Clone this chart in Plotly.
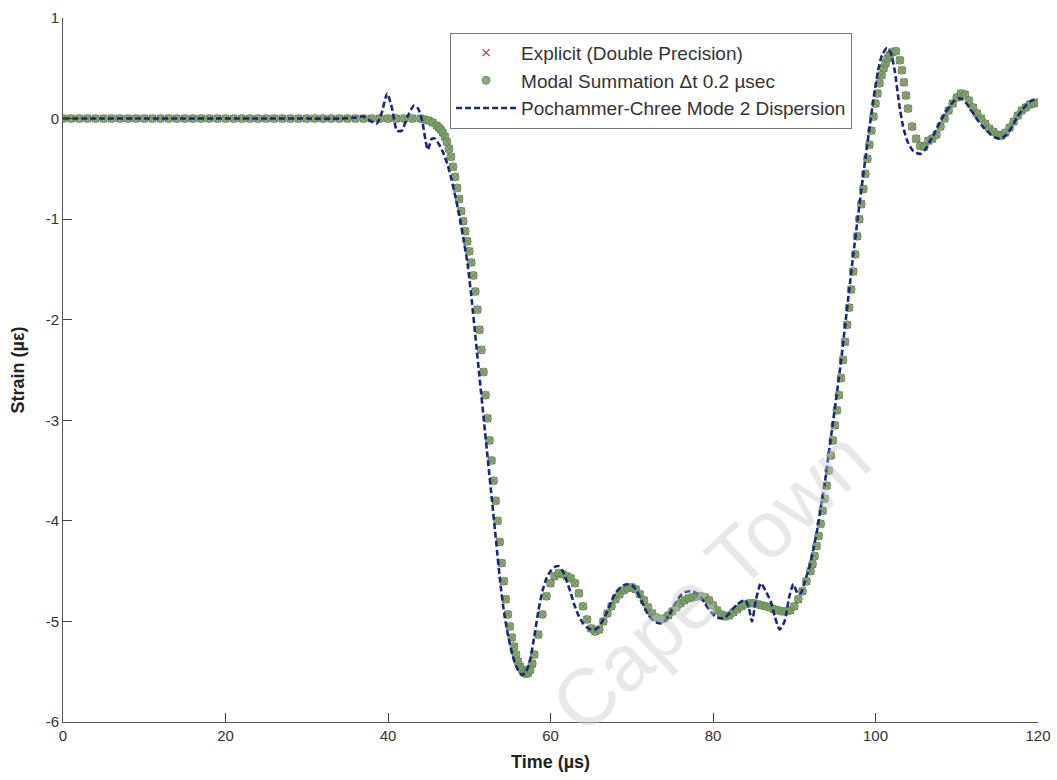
import plotly.graph_objects as go

# ---- Marker series (Explicit and Modal Summation coincide at plotted resolution) ----
modal_time = [
    0, 1, 2, 3, 4, 5, 6, 7, 8, 9, 10, 11, 12, 13, 14, 15, 16, 17, 18, 19, 20, 21, 22,
    23, 24, 25, 26, 27, 28, 29, 30, 31, 32, 33, 34, 35, 36, 37, 38, 39, 40, 41, 42, 43, 44,
    44.5, 45, 45.5, 46, 46.25, 46.5, 46.75, 47, 47.25, 47.5, 47.75, 48, 48.25, 48.5, 48.75,
    49, 49.25, 49.5, 49.75, 50, 50.25, 50.5, 50.75, 51, 51.25, 51.5, 51.75, 52, 52.25, 52.5,
    52.75, 53, 53.25, 53.5, 53.75, 54, 54.25, 54.5, 54.75, 55, 55.25, 55.5, 55.75, 56, 56.25,
    56.5, 56.75, 57, 57.25, 57.5, 57.75, 58, 58.5, 59, 59.5, 60, 60.5, 61, 61.5, 62, 62.5,
    63, 63.5, 64, 64.5, 65, 65.5, 66, 66.5, 67, 67.5, 68, 68.5, 69, 69.5, 70, 70.5, 71, 71.5,
    72, 72.5, 73, 73.5, 74, 74.5, 75, 75.5, 76, 76.5, 77, 77.5, 78, 78.5, 79, 79.5, 80, 80.5,
    81, 81.5, 82, 82.5, 83, 83.5, 84, 84.5, 85, 85.5, 86, 86.5, 87, 87.5, 88, 88.5, 89, 89.5,
    90, 90.5, 91, 91.5, 92, 92.25, 92.5, 92.75, 93, 93.25, 93.5, 93.75, 94, 94.25, 94.5, 94.75,
    95, 95.25, 95.5, 95.75, 96, 96.25, 96.5, 96.75, 97, 97.25, 97.5, 97.75, 98, 98.25, 98.5,
    98.75, 99, 99.25, 99.5, 99.75, 100, 100.25, 100.5, 100.75, 101, 101.25, 101.5, 101.75,
    102, 102.5, 103, 103.25, 103.5, 103.75, 104, 104.5, 105, 105.5, 106, 106.5, 107, 107.5,
    108, 108.5, 109, 109.5, 110, 110.5, 111, 111.5, 112, 112.5, 113, 113.5, 114, 114.5, 115,
    115.5, 116, 116.5, 117, 117.5, 118, 118.5, 119, 119.5, 120,
]
modal_strain = [
    0.0, 0.0, 0.0, 0.0, 0.0, 0.0, 0.0, 0.0, 0.0, 0.0, 0.0, 0.0, 0.0, 0.0, 0.0, 0.0, 0.0, 0.0,
    0.0, 0.0, 0.0, 0.0, 0.0, 0.0, 0.0, 0.0, 0.0, 0.0, 0.0, 0.0, 0.0, 0.0, 0.0, 0.0, 0.0, 0.0,
    0.0, 0.0, 0.0, 0.0, 0.0, 0.0, 0.0, 0.0, 0.0,
    -0.01, -0.02, -0.04, -0.07, -0.09, -0.11, -0.14, -0.18, -0.23, -0.30, -0.38, -0.48, -0.58,
    -0.69, -0.80, -0.92, -1.02, -1.12, -1.22, -1.32, -1.43, -1.56, -1.72, -1.90, -2.10, -2.30,
    -2.52, -2.75, -2.98, -3.20, -3.40, -3.60, -3.80, -4.00, -4.21, -4.42, -4.60, -4.78, -4.93,
    -5.05, -5.16, -5.25, -5.33, -5.40, -5.45, -5.48, -5.51, -5.52, -5.51, -5.48, -5.42, -5.33,
    -5.13, -4.93, -4.75, -4.62, -4.55, -4.52, -4.53, -4.55, -4.57, -4.62, -4.72, -4.85, -4.98,
    -5.07, -5.10, -5.08, -5.00, -4.92, -4.85, -4.78, -4.73, -4.69, -4.67, -4.66, -4.68, -4.73,
    -4.79, -4.86, -4.92, -4.96, -4.98, -4.97, -4.94, -4.90, -4.86, -4.82, -4.79, -4.77, -4.76,
    -4.75, -4.75, -4.76, -4.79, -4.84, -4.89, -4.93, -4.95, -4.94, -4.91, -4.88, -4.85, -4.83,
    -4.82, -4.82, -4.83, -4.84, -4.85, -4.86, -4.88, -4.89, -4.90, -4.90, -4.89, -4.85, -4.78,
    -4.70, -4.60, -4.50, -4.43, -4.35, -4.25, -4.15, -4.03, -3.90, -3.78, -3.65, -3.50, -3.35,
    -3.20, -3.05, -2.90, -2.75, -2.58, -2.40, -2.22, -2.05, -1.88, -1.70, -1.52, -1.35, -1.17,
    -1.00, -0.85, -0.70, -0.55, -0.40, -0.26, -0.12, 0.02, 0.15, 0.25, 0.35, 0.43, 0.50, 0.55,
    0.60, 0.63, 0.66, 0.67, 0.58, 0.48, 0.36, 0.23, 0.10, -0.08, -0.20, -0.27, -0.28, -0.22,
    -0.20, -0.16, -0.08, 0.00, 0.08, 0.15, 0.21, 0.25, 0.24, 0.18, 0.11, 0.05, 0.00, -0.05,
    -0.10, -0.13, -0.16, -0.17, -0.14, -0.09, -0.03, 0.03, 0.08, 0.11, 0.14, 0.15, 0.16,
]
explicit_time = list(modal_time)
explicit_strain = list(modal_strain)

# ---- Pochammer-Chree Mode 2 dispersion (dashed line) ----
pc_time = [
    0, 5, 10, 15, 20, 25, 30, 34, 36, 37, 38, 38.6, 39.2, 39.9, 40.5, 41.1, 41.7, 42.4, 43.2,
    43.7, 44.2, 44.9, 45.4, 45.8, 46.3, 46.8, 47.3, 47.8, 48.3, 48.8, 49.3, 49.8, 50.3, 50.8,
    51.3, 51.8, 52.3, 52.8, 53.3, 53.8, 54.3, 54.8, 55.3, 55.8, 56.3, 56.6, 57, 57.5, 58, 58.5,
    59, 59.5, 60, 60.5, 61, 61.5, 62, 62.5, 63, 63.5, 64, 64.5, 65, 65.5, 66, 66.5, 67, 67.5,
    68, 68.5, 69, 69.5, 70, 70.5, 71, 71.5, 72, 72.5, 73, 73.5, 74, 74.5, 75, 75.5, 76, 76.5,
    77, 77.5, 78, 78.5, 79, 79.5, 80, 80.5, 81, 81.5, 82, 82.5, 83, 83.5, 84, 84.4, 84.8, 85.3,
    85.9, 86.5, 87.1, 87.6, 88.2, 88.8, 89.4, 89.9, 90.4, 90.8, 91.3, 91.8, 92.3, 92.8, 93.3,
    93.8, 94.3, 94.8, 95.3, 95.8, 96.3, 96.8, 97.3, 97.8, 98.3, 98.8, 99.3, 99.8, 100.3, 100.8,
    101.4, 101.9, 102.4, 102.9, 103.4, 103.9, 104.5, 105.0, 105.6, 106.1, 106.6, 107.1, 107.6,
    108.1, 108.6, 109.1, 109.6, 110.2, 110.7, 111.2, 111.7, 112.2, 112.7, 113.2, 113.7, 114.2,
    114.8, 115.4, 116, 116.5, 117, 117.5, 118, 118.5, 119, 119.6,
]
pc_strain = [
    0.0, 0.0, 0.0, 0.0, 0.0, 0.0, 0.0, 0.0, 0.01, 0.02, -0.03, -0.05, 0.05, 0.25, 0.10, -0.12,
    -0.12, 0.02, 0.13, 0.10, -0.02, -0.31, -0.20, -0.20, -0.26, -0.34, -0.45, -0.60, -0.78,
    -0.97, -1.20, -1.45, -1.80, -2.20, -2.60, -3.00, -3.40, -3.80, -4.20, -4.60, -4.92, -5.15,
    -5.33, -5.45, -5.52, -5.53, -5.50, -5.38, -5.15, -4.90, -4.70, -4.57, -4.50, -4.46, -4.45,
    -4.50, -4.60, -4.72, -4.85, -4.95, -5.02, -5.06, -5.08, -5.08, -5.05, -4.98, -4.90, -4.80,
    -4.72, -4.67, -4.64, -4.63, -4.64, -4.68, -4.76, -4.85, -4.93, -4.98, -5.01, -5.02, -5.00,
    -4.95, -4.88, -4.80, -4.74, -4.71, -4.70, -4.70, -4.72, -4.76, -4.82, -4.88, -4.93, -4.96,
    -4.97, -4.96, -4.92, -4.87, -4.83, -4.80, -4.79, -4.86, -5.00, -4.78, -4.62, -4.70, -4.80,
    -4.95, -5.08, -5.00, -4.75, -4.63, -4.72, -4.72, -4.60, -4.48, -4.30, -4.10, -3.85, -3.60,
    -3.30, -3.00, -2.70, -2.38, -2.03, -1.68, -1.33, -1.00, -0.68, -0.37, -0.07, 0.22, 0.47,
    0.63, 0.70, 0.65, 0.46, 0.15, -0.08, -0.22, -0.31, -0.34, -0.35, -0.31, -0.24, -0.17, -0.09,
    -0.01, 0.06, 0.12, 0.17, 0.20, 0.19, 0.15, 0.09, 0.03, -0.03, -0.08, -0.12, -0.16, -0.19,
    -0.20, -0.17, -0.12, -0.05, 0.02, 0.08, 0.13, 0.17, 0.19,
]

x_ticks = [0, 20, 40, 60, 80, 100, 120]
x_tick_labels = ["0", "20", "40", "60", "80", "100", "120"]
y_ticks = [-6, -5, -4, -3, -2, -1, 0, 1]
y_tick_labels = ["-6", "-5", "-4", "-3", "-2", "-1", "0", "1"]

FONT = "Liberation Sans, Arial, sans-serif"

fig = go.Figure()
fig.add_trace(go.Scatter(
    x=explicit_time, y=explicit_strain, mode="markers",
    name="Explicit (Double Precision)", legendgroup="a",
    marker=dict(symbol="x-thin", size=7, line=dict(width=1.3, color="rgb(175,60,85)")),
))
fig.add_trace(go.Scatter(
    x=modal_time, y=modal_strain, mode="markers",
    name="Modal Summation \u0394t 0.2 \u00b5sec", legendgroup="b",
    marker=dict(symbol="circle", size=8, color="rgba(118,160,100,0.85)",
                line=dict(width=0.8, color="rgb(90,135,85)")),
))
fig.add_trace(go.Scatter(
    x=pc_time, y=pc_strain, mode="lines",
    name="Pochammer-Chree Mode 2 Dispersion", legendgroup="c",
    line=dict(color="rgb(28,38,125)", width=2.6, dash="6px,3px", shape="spline", smoothing=0.6),
))

fig.add_annotation(
    x=0.664, y=0.2, xref="paper", yref="paper", xanchor="center", yanchor="middle",
    text="Cape Town", showarrow=False, textangle=-43,
    font=dict(family=FONT, size=80, color="rgba(205,205,205,0.45)"),
)

fig.update_layout(
    width=1057, height=780,
    margin=dict(l=63, r=19, t=18, b=58, autoexpand=False),
    paper_bgcolor="white", plot_bgcolor="white",
    font=dict(family=FONT, size=15, color="#333"),
    showlegend=True,
    legend=dict(
        x=0.397, y=0.979, xanchor="left", yanchor="top",
        bgcolor="white", bordercolor="#777", borderwidth=1,
        font=dict(family=FONT, size=19, color="#333"),
        tracegroupgap=0, itemwidth=60,
    ),
    xaxis=dict(
        range=[0, 120], tickvals=x_ticks, ticktext=x_tick_labels, ticks="inside", ticklen=9,
        tickcolor="#444", showline=True, linecolor="#555", linewidth=1, showgrid=False,
        zeroline=False, automargin=False,
        title=dict(text="<b>Time (\u00b5s)</b>", font=dict(family=FONT, size=18, color="#222"), standoff=12),
        tickfont=dict(family=FONT, size=15, color="#333"),
    ),
    yaxis=dict(
        range=[-6, 1], tickvals=y_ticks, ticktext=y_tick_labels, ticks="inside", ticklen=9,
        tickcolor="#444", showline=True, linecolor="#555", linewidth=1, showgrid=False,
        zeroline=False, automargin=False,
        title=dict(text="<b>Strain (\u00b5\u03b5)</b>", font=dict(family=FONT, size=18, color="#222"), standoff=16),
        tickfont=dict(family=FONT, size=15, color="#333"),
    ),
)

fig.write_html("out.html")
